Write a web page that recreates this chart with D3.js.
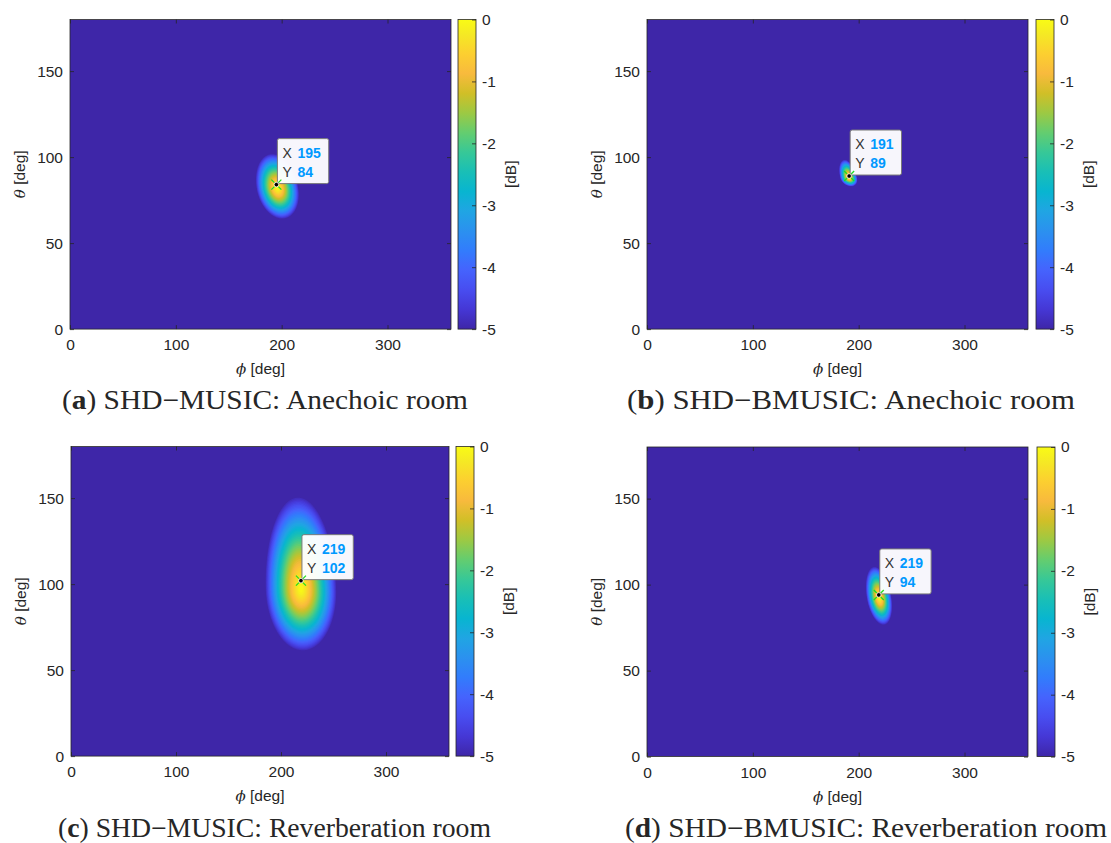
<!DOCTYPE html>
<html>
<head>
<meta charset="utf-8">
<script src="https://cdn.jsdelivr.net/npm/d3@7"></script>
<style>
  body { margin: 0; background: #fff; }
  svg { display: block; }
  text { fill: #262626; font-family: "Liberation Sans", Arial, Helvetica, sans-serif; }
</style>
</head>
<body>
<div id="wrapper"></div>
<script>
// ---- data ----
const panelLetters = ["a", "b", "c", "d"]
const panelTitles = [
  "SHD\u2212MUSIC: Anechoic room",
  "SHD\u2212BMUSIC: Anechoic room",
  "SHD\u2212MUSIC: Reverberation room",
  "SHD\u2212BMUSIC: Reverberation room"
]
// datatip readouts
const tipX = [195, 191, 219, 219]
const tipY = [84, 89, 102, 94]
// peak of the spectrum and how far (deg) it reaches before hitting the -5 dB floor
const peakPhi = [196, 191, 219, 219.5]
const peakTheta = [82, 88, 97, 92.5]
const spreadLeft = [20, 8.5, 34, 12]
const spreadRight = [20, 7.5, 34, 11.5]
const spreadUp = [20, 10.5, 54, 18]
const spreadDown = [18, 5, 36, 16]
const tilt = [-0.25, -0.4, -0.05, -0.25]   // deg phi per deg theta
const falloff = 1.35                       // shape of the dB roll-off

const phiTicks = [0, 100, 200, 300]
const thetaTicks = [0, 50, 100, 150]
const dbTicks = [0, -1, -2, -3, -4, -5]
const dbFloor = -5

// parula colormap (matlab), sampled
const parula = ["#3e26a8", "#4537d5", "#484df0", "#4563fd", "#327cfc", "#2b91ef", "#20a5e3",
  "#08b5d0", "#19bfb6", "#37c897", "#64cd6f", "#9dc943", "#d1bf27", "#f8ba3d", "#fccf30",
  "#f5e924", "#f9fb15"]
const parulaPos = [0, 4, 8, 12, 16, 20, 24, 28, 32, 36, 40, 44, 48, 52, 56, 60, 63].map(i => i / 63)

// ---- layout ----
const width = 1111, height = 843
const plotH = 309.6
const layout = [
  { left: 70, top: 19.5, right: 451, cb: 458, capX: 62, capW: 406, capY: 409 },
  { left: 647, top: 19.5, right: 1028, cb: 1036, capX: 627, capW: 448, capY: 409 },
  { left: 71, top: 446.5, right: 449, cb: 456, capX: 58, capW: 433, capY: 837 },
  { left: 647, top: 447, right: 1028, cb: 1037, capX: 625, capW: 482, capY: 837 }
]
const cbW = 18
const fontSize = "15.5px"

const colorScale = d3.scaleLinear()
  .domain(parulaPos.map(p => dbFloor + p * -dbFloor))
  .range(parula)
  .clamp(true)

const svg = d3.select("#wrapper").append("svg")
  .attr("width", width)
  .attr("height", height)
  .style("background", "#fff")

const defs = svg.append("defs")
const grad = defs.append("linearGradient")
  .attr("id", "parula")
  .attr("x1", 0).attr("y1", 1).attr("x2", 0).attr("y2", 0)
grad.selectAll("stop").data(parula).enter().append("stop")
  .attr("offset", (d, i) => parulaPos[i])
  .attr("stop-color", d => d)

const step = 0.5
const nx = 360 / step + 1, ny = 180 / step + 1
const thresholds = d3.range(-4.9, -0.04, 0.1)

function spectrum(k) {
  const vals = new Float64Array(nx * ny)
  for (let j = 0; j < ny; j++) {
    const dv = j * step - peakTheta[k]
    const b = dv >= 0 ? spreadUp[k] : spreadDown[k]
    for (let i = 0; i < nx; i++) {
      const du = i * step - peakPhi[k] - tilt[k] * dv
      const a = du >= 0 ? spreadRight[k] : spreadLeft[k]
      const r = Math.sqrt((du / a) ** 2 + (dv / b) ** 2)
      vals[j * nx + i] = Math.max(dbFloor, dbFloor * Math.pow(r, falloff))
    }
  }
  return vals
}

panelLetters.forEach((letter, k) => {
  const L = layout[k]
  const bottom = L.top + plotH
  const x = d3.scaleLinear().domain([0, 360]).range([L.left, L.right])
  const y = d3.scaleLinear().domain([0, 180]).range([bottom, L.top])
  const cy = d3.scaleLinear().domain([dbFloor, 0]).range([bottom, L.top])

  defs.append("clipPath").attr("id", "clip" + k)
    .append("rect")
    .attr("x", L.left).attr("y", L.top)
    .attr("width", L.right - L.left).attr("height", plotH)

  const g = svg.append("g")

  // image
  const img = g.append("g").attr("clip-path", `url(#clip${k})`)
  img.append("rect")
    .attr("x", L.left).attr("y", L.top)
    .attr("width", L.right - L.left).attr("height", plotH)
    .attr("fill", colorScale(dbFloor))

  const vals = spectrum(k)
  const contours = d3.contours().size([nx, ny]).thresholds(thresholds)(vals)
  const proj = d3.geoTransform({
    point: function (px, py) {
      this.stream.point(x((px - 0.5) * step), y((py - 0.5) * step))
    }
  })
  const path = d3.geoPath(proj)
  img.selectAll("path.band").data(contours).enter().append("path")
    .attr("class", "band")
    .attr("d", path)
    .attr("fill", d => colorScale(d.value + 0.05))

  // axes, ticks point inward
  const styleAxis = sel => {
    sel.select(".domain").remove()
    sel.selectAll(".tick line").attr("stroke", "#262626").attr("stroke-width", 0.8)
    sel.selectAll("text").style("font-size", fontSize).attr("fill", "#262626")
      .style("font-family", '"Liberation Sans", Arial, sans-serif')
  }
  g.append("g").attr("transform", `translate(0,${bottom})`)
    .call(d3.axisBottom(x).tickValues(phiTicks).tickSize(-4).tickPadding(10))
    .call(styleAxis)
  g.append("g").attr("transform", `translate(0,${L.top})`)
    .call(d3.axisTop(x).tickValues(phiTicks).tickSize(-4).tickFormat(""))
    .call(styleAxis)
  g.append("g").attr("transform", `translate(${L.left},0)`)
    .call(d3.axisLeft(y).tickValues(thetaTicks).tickSize(-4).tickPadding(7))
    .call(styleAxis)
  g.append("g").attr("transform", `translate(${L.right},0)`)
    .call(d3.axisRight(y).tickValues(thetaTicks).tickSize(-4).tickFormat(""))
    .call(styleAxis)

  g.append("rect")
    .attr("x", L.left).attr("y", L.top)
    .attr("width", L.right - L.left).attr("height", plotH)
    .attr("fill", "none").attr("stroke", "#262626").attr("stroke-width", 0.8)

  // axis labels
  const xl = g.append("text")
    .attr("x", (L.left + L.right) / 2).attr("y", bottom + 45)
    .attr("text-anchor", "middle")
    .style("font-size", fontSize)
  xl.append("tspan").text("\u03d5").style("font-style", "italic")
    .style("font-family", '"DejaVu Serif", serif').style("font-size", "15px")
  xl.append("tspan").text(" [deg]")

  const yl = g.append("text")
    .attr("transform", `translate(${L.left - 45},${(L.top + bottom) / 2}) rotate(-90)`)
    .attr("text-anchor", "middle")
    .style("font-size", fontSize)
  yl.append("tspan").text("\u03b8").style("font-style", "italic")
    .style("font-family", '"DejaVu Serif", serif').style("font-size", "15px")
  yl.append("tspan").text(" [deg]")

  // colorbar
  g.append("rect")
    .attr("x", L.cb).attr("y", L.top)
    .attr("width", cbW).attr("height", plotH)
    .attr("fill", "url(#parula)")
  g.append("g").attr("transform", `translate(${L.cb + cbW},0)`)
    .call(d3.axisRight(cy).tickValues(dbTicks).tickSize(-4).tickPadding(6).tickFormat(d => d === 0 ? "0" : "-" + Math.abs(d)))
    .call(styleAxis)
  g.append("rect")
    .attr("x", L.cb).attr("y", L.top)
    .attr("width", cbW).attr("height", plotH)
    .attr("fill", "none").attr("stroke", "#262626").attr("stroke-width", 0.8)
  g.append("text")
    .attr("transform", `translate(${L.cb + cbW + 35},${(L.top + bottom) / 2}) rotate(-90)`)
    .attr("text-anchor", "middle")
    .attr("dy", "0.35em")
    .style("font-size", fontSize)
    .text("[dB]")

  // datatip
  const mx = x(tipX[k]), my = y(tipY[k])
  const tip = g.append("g")
  const box = tip.append("rect")
  const t1 = tip.append("text").attr("x", mx + 6).attr("y", my - 27).style("font-size", "14px")
  t1.append("tspan").text("X").attr("fill", "#333")
  const v1 = t1.append("tspan").attr("x", mx + 21).text(tipX[k])
    .style("font-weight", "bold").attr("fill", "#0099ff")
  const t2 = tip.append("text").attr("x", mx + 6).attr("y", my - 8).style("font-size", "14px")
  t2.append("tspan").text("Y").attr("fill", "#333")
  const v2 = t2.append("tspan").attr("x", mx + 21).text(tipY[k])
    .style("font-weight", "bold").attr("fill", "#0099ff")
  const tw = Math.max(v1.node().getComputedTextLength(), v2.node().getComputedTextLength())
  box.attr("x", mx + 1).attr("y", my - 46)
    .attr("width", 20 + tw + 8).attr("height", 45)
    .attr("rx", 2)
    .attr("fill", "#fff").attr("fill-opacity", 0.96)
    .attr("stroke", "#7a7a7a").attr("stroke-width", 1)

  const cross = [[1, 1], [1, -1], [-1, 1], [-1, -1]]
  tip.selectAll("line.cross").data(cross).enter().append("line")
    .attr("x1", d => mx + d[0] * 2).attr("y1", d => my + d[1] * 2)
    .attr("x2", d => mx + d[0] * 5).attr("y2", d => my + d[1] * 5)
    .attr("stroke", "#22dd22").attr("stroke-width", 1.3)
  tip.append("circle")
    .attr("cx", mx).attr("cy", my).attr("r", 2.3)
    .attr("fill", "#000").attr("stroke", "#fff").attr("stroke-width", 0.8)

  // caption
  const cap = svg.append("text")
    .attr("x", L.capX).attr("y", L.capY)
    .attr("textLength", L.capW)
    .attr("lengthAdjust", "spacingAndGlyphs")
    .style("font-family", '"Liberation Serif", "Times New Roman", serif')
    .style("font-size", "27px")
    .attr("fill", "#000")
  cap.append("tspan").text("(")
  cap.append("tspan").text(letter).style("font-weight", "bold")
  cap.append("tspan").text(") " + panelTitles[k])
})
</script>
</body>
</html>
